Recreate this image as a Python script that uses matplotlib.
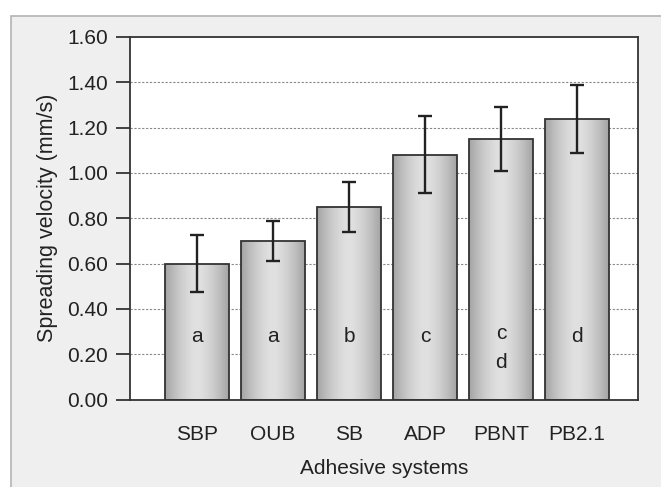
import numpy as np
import matplotlib
matplotlib.use("Agg")
import matplotlib.pyplot as plt
from matplotlib.patches import Rectangle

plt.rcParams['font.family'] = ['Liberation Sans', 'DejaVu Sans']

# data
systems = ['SBP', 'OUB', 'SB', 'ADP', 'PBNT', 'PB2.1']
velocity = [0.60, 0.70, 0.85, 1.08, 1.15, 1.24]
errors = [0.125, 0.09, 0.11, 0.17, 0.14, 0.15]
groups = ['a', 'a', 'b', 'c', 'c\nd', 'd']
yticks = [0.0, 0.2, 0.4, 0.6, 0.8, 1.0, 1.2, 1.4, 1.6]

fig = plt.figure(figsize=(6.61, 4.87), dpi=100)
fig.patch.set_facecolor('white')

# grey panel behind the chart, like the screenshot frame
panel = Rectangle((11 / 661, -0.01), 1, 1.01 - 16 / 487, transform=fig.transFigure,
                  facecolor='#efefef', edgecolor='#b4b4b4', linewidth=1.2, zorder=-10)
fig.patches.append(panel)

ax = fig.add_axes([130 / 661, 1 - 399.5 / 487, 508 / 661, 362.5 / 487])
ax.set_facecolor('white')

x = np.arange(len(systems))
bars = ax.bar(x, velocity, width=0.84, facecolor='none', edgecolor='#333333',
              linewidth=1.3, zorder=3)

# horizontal grey gradient inside each bar (light in the middle)
t = np.linspace(-1, 1, 200)
shade = 0.64 + 0.24 * (1 - np.abs(t) ** 1.6)
grad = np.tile(shade, (2, 1))
for b in bars:
    bx, by = b.get_x(), b.get_y()
    w, h = b.get_width(), b.get_height()
    im = ax.imshow(grad, cmap='gray', vmin=0, vmax=1, aspect='auto',
                   extent=(bx, bx + w, by, by + h), zorder=2, interpolation='bilinear')
    im.set_clip_path(b)

ax.errorbar(x, velocity, yerr=errors, fmt='none', ecolor='#222222', elinewidth=1.7,
            capsize=5, capthick=1.7, zorder=4)

for xi, g in zip(x, groups):
    if '\n' in g:
        ax.text(xi, 0.335, g, ha='center', va='top', fontsize=15, color='#222222',
                zorder=5, linespacing=1.7)
    else:
        ax.text(xi, 0.28, g, ha='center', va='center', fontsize=15, color='#222222',
                zorder=5)

ax.set_xlim(-0.88, 5.8)
ax.set_ylim(0, 1.6)
ax.set_yticks(yticks)
ax.set_yticklabels([f'{v:.2f}' for v in yticks], fontsize=15, color='#222222')
ax.set_xticks(x)
ax.set_xticklabels(systems, fontsize=15, color='#222222')
ax.tick_params(axis='x', length=0, pad=18)
ax.tick_params(axis='y', length=10, width=1.3, color='#333333', pad=6, direction='out')

for v in yticks[1:-1]:
    ax.axhline(v, color='#888888', linestyle=(0, (2, 1.5)), linewidth=0.8, zorder=1)

for s in ax.spines.values():
    s.set_color('#333333')
    s.set_linewidth(1.3)

ax.set_ylabel('Spreading velocity (mm/s)', fontsize=15.5, color='#222222', labelpad=6)
ax.set_xlabel('Adhesive systems', fontsize=15, color='#222222', labelpad=11)

fig.savefig('out.png', dpi=100, facecolor=fig.get_facecolor())
